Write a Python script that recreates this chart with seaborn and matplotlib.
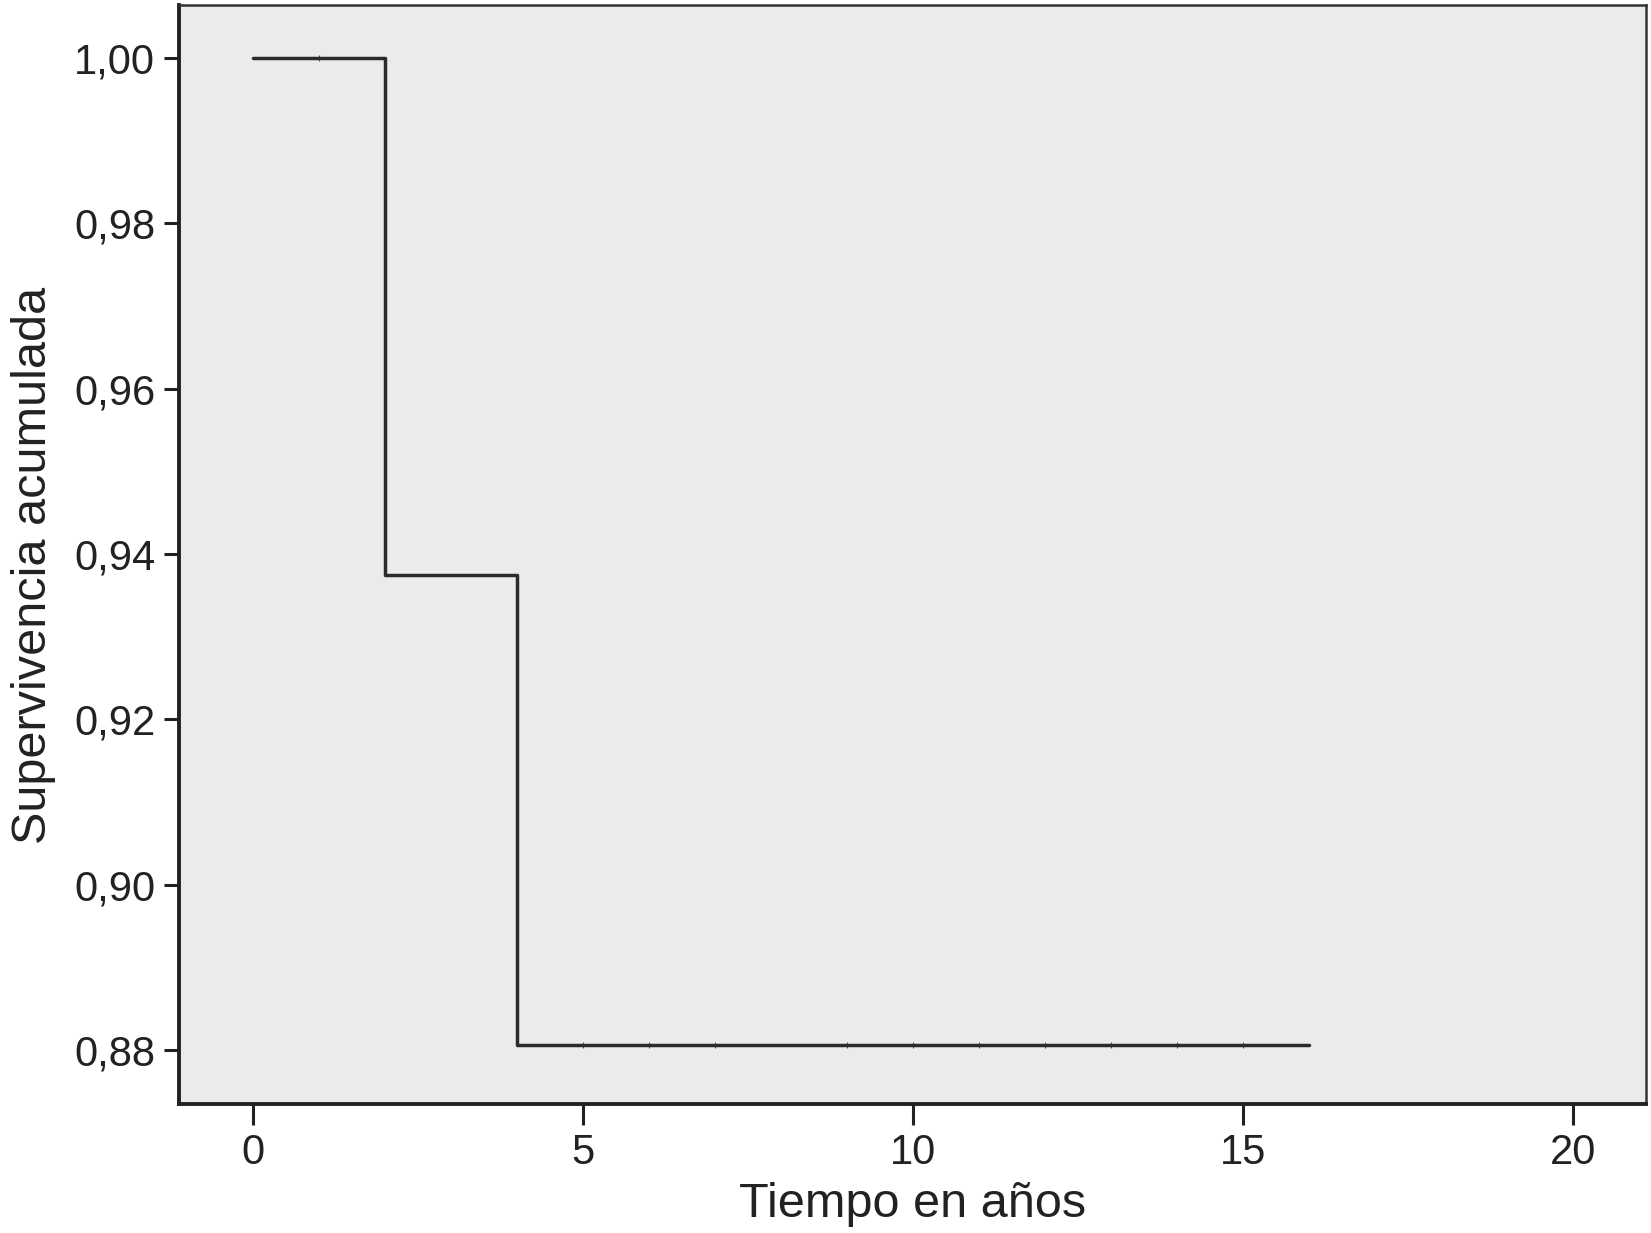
import numpy as np
import pandas as pd
import seaborn as sns
from matplotlib import pyplot as plt
from matplotlib.ticker import FuncFormatter

# Kaplan-Meier steps
step_times = [0, 2, 4, 16]
survival = [1.0, 0.9375, 0.8806, 0.8806]
# censored observations (small tick marks on the curve)
censor_times = [1, 5, 6, 7, 9, 10, 11, 12, 13, 14, 15]

x_ticks = [0, 5, 10, 15, 20]
y_ticks = [0.88, 0.90, 0.92, 0.94, 0.96, 0.98, 1.00]

sns.set_style('ticks')
plt.rcParams['font.family'] = ['Liberation Sans', 'DejaVu Sans']

df = pd.DataFrame({'tiempo': step_times, 'superv': survival})
idx = np.searchsorted(step_times, censor_times, side='right') - 1
cens = pd.DataFrame({'tiempo': censor_times, 'superv': np.array(survival)[idx]})

fig = plt.figure(figsize=(16.51, 12.33), dpi=100)
ax = fig.add_axes([0.1084, 0.1046, 0.8886, 0.8914])
ax.set_facecolor('#ebebeb')

sns.lineplot(df, x='tiempo', y='superv', drawstyle='steps-post', color='#2b2b2b',
             linewidth=2.5, ax=ax)
sns.scatterplot(cens, x='tiempo', y='superv', marker='|', s=25, color='#555555',
                linewidth=0.8, ax=ax)

ax.set_xlim(-1.12, 21.1)
ax.set_ylim(0.8735, 1.0064)
ax.set_xticks(x_ticks)
ax.set_yticks(y_ticks)
ax.yaxis.set_major_formatter(FuncFormatter(lambda v, p: f'{v:.2f}'.replace('.', ',')))
ax.xaxis.set_major_formatter(FuncFormatter(lambda v, p: f'{v:.0f}'))

ax.tick_params(axis='x', length=15, width=2.2, pad=6, labelsize=30, colors='#222222')
ax.tick_params(axis='y', length=11, width=2.2, pad=6, labelsize=30, colors='#222222')

for side in ['left', 'bottom']:
    ax.spines[side].set_linewidth(2.8)
    ax.spines[side].set_color('#222222')
for side in ['top', 'right']:
    ax.spines[side].set_visible(True)
    ax.spines[side].set_linewidth(1.8)
    ax.spines[side].set_color('#333333')

ax.set_xlabel('Tiempo en años', fontsize=35, color='#222222', labelpad=6)
ax.set_ylabel('Supervivencia acumulada', fontsize=35, color='#222222')
ax.yaxis.set_label_coords(-0.084, 0.49)

fig.savefig('out.png', dpi=100)
